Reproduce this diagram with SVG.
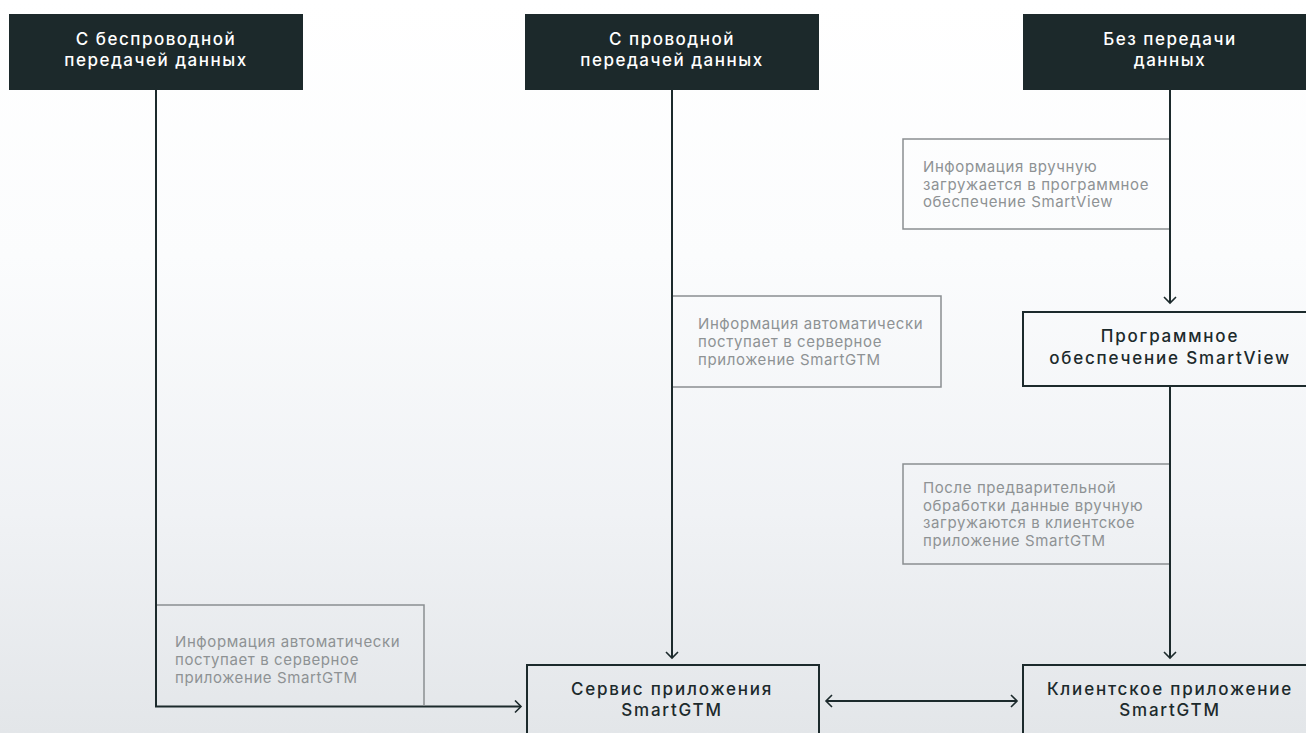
<svg xmlns="http://www.w3.org/2000/svg" width="1306" height="733" viewBox="0 0 1306 733">
<defs>
<linearGradient id="bg" x1="0" y1="0" x2="0" y2="1">
<stop offset="0" stop-color="#ffffff"/>
<stop offset="0.35" stop-color="#fbfcfd"/>
<stop offset="0.7" stop-color="#f0f2f5"/>
<stop offset="1" stop-color="#e3e6e9"/>
</linearGradient>
<marker id="ah" markerWidth="14" markerHeight="14" viewBox="-12 -7 14 14" refX="0" refY="0" orient="auto" markerUnits="userSpaceOnUse">
<path d="M-6,-6 L0,0 L-6,6" fill="none" stroke="#1c2a2c" stroke-width="1.6"/>
</marker>
<marker id="ahs" markerWidth="14" markerHeight="14" viewBox="-12 -7 14 14" refX="0" refY="0" orient="auto-start-reverse" markerUnits="userSpaceOnUse">
<path d="M-6,-6 L0,0 L-6,6" fill="none" stroke="#1c2a2c" stroke-width="1.6"/>
</marker>
</defs>
<style>
.hdr{fill:#1c292b}
.hdrt{fill:#ffffff;font-family:Inter,"Noto Sans",sans-serif;font-size:17px;font-weight:500;letter-spacing:1.5px;text-anchor:middle}
.lbl{fill:none;stroke:#8a8f91;stroke-width:1.5}
.lblt{fill:#8e9294;font-family:Inter,"Noto Sans",sans-serif;font-size:15px;letter-spacing:0.6px}
.node{fill:none;stroke:#1c2a2c;stroke-width:2}
.nodet{fill:#1c2a2c;font-family:Inter,"Noto Sans",sans-serif;font-size:17px;font-weight:500;letter-spacing:1.8px;text-anchor:middle}
.con{fill:none;stroke:#1c2a2c;stroke-width:2}
</style>
<rect x="0" y="0" width="1306" height="733" fill="url(#bg)"/>

<g id="header-wireless">
<rect class="hdr" x="9" y="14" width="294" height="76"/>
<text class="hdrt" x="156" y="45">С беспроводной</text>
<text class="hdrt" x="156" y="66">передачей данных</text>
</g>
<g id="header-wired">
<rect class="hdr" x="525" y="14" width="294" height="76"/>
<text class="hdrt" x="672" y="45">С проводной</text>
<text class="hdrt" x="672" y="66">передачей данных</text>
</g>
<g id="header-none">
<rect class="hdr" x="1023" y="14" width="294" height="76"/>
<text class="hdrt" x="1170" y="45">Без передачи</text>
<text class="hdrt" x="1170" y="66">данных</text>
</g>

<g id="connectors">
<path class="con" d="M156,90 V706.5 H521" marker-end="url(#ah)"/>
<path class="con" d="M672,90 V658" marker-end="url(#ah)"/>
<path class="con" d="M1170,90 V303" marker-end="url(#ah)"/>
<path class="con" d="M1170,386 V658" marker-end="url(#ah)"/>
<path class="con" d="M826,701 H1017" marker-start="url(#ahs)" marker-end="url(#ah)"/>
</g>

<g id="label-wireless">
<path class="lbl" d="M157,605 H424 V706"/>
<text class="lblt" x="175" y="647">Информация автоматически</text>
<text class="lblt" x="175" y="665">поступает в серверное</text>
<text class="lblt" x="175" y="683">приложение SmartGTM</text>
</g>
<g id="label-wired">
<path class="lbl" d="M673,296 H941 V387 H673"/>
<text class="lblt" x="698" y="329">Информация автоматически</text>
<text class="lblt" x="698" y="347">поступает в серверное</text>
<text class="lblt" x="698" y="365">приложение SmartGTM</text>
</g>
<g id="label-manual">
<path class="lbl" d="M1169,139 H903 V229 H1169"/>
<text class="lblt" x="923" y="172">Информация вручную</text>
<text class="lblt" x="923" y="190">загружается в программное</text>
<text class="lblt" x="923" y="207">обеспечение SmartView</text>
</g>
<g id="label-preprocess">
<path class="lbl" d="M1169,464 H903 V564 H1169"/>
<text class="lblt" x="923" y="493">После предварительной</text>
<text class="lblt" x="923" y="511">обработки данные вручную</text>
<text class="lblt" x="923" y="528">загружаются в клиентское</text>
<text class="lblt" x="923" y="546">приложение SmartGTM</text>
</g>

<g id="node-smartview">
<rect class="node" x="1023" y="312" width="300" height="74"/>
<text class="nodet" x="1170" y="342">Программное</text>
<text class="nodet" x="1170" y="364">обеспечение SmartView</text>
</g>
<g id="node-service">
<rect class="node" x="527" y="665" width="292" height="80"/>
<text class="nodet" x="672" y="695">Сервис приложения</text>
<text class="nodet" x="672" y="716">SmartGTM</text>
</g>
<g id="node-client">
<rect class="node" x="1023" y="665" width="300" height="80"/>
<text class="nodet" x="1170" y="695">Клиентское приложение</text>
<text class="nodet" x="1170" y="716">SmartGTM</text>
</g>
</svg>
